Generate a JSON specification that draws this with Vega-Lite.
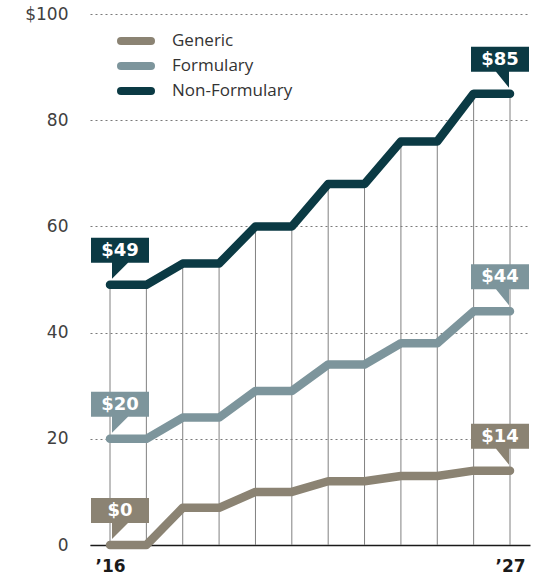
{
  "$schema": "https://vega.github.io/schema/vega-lite/v6.json",
  "width": 440,
  "height": 531,
  "autosize": {"type": "none"},
  "padding": {"left": 90, "top": 14, "right": 7, "bottom": 32},
  "config": {"view": {"stroke": null}, "font": "Open Sans"},
  "data": {
    "values": [
      {"year": 2016, "series": "Generic", "value": 0},
      {"year": 2017, "series": "Generic", "value": 0},
      {"year": 2018, "series": "Generic", "value": 7},
      {"year": 2019, "series": "Generic", "value": 7},
      {"year": 2020, "series": "Generic", "value": 10},
      {"year": 2021, "series": "Generic", "value": 10},
      {"year": 2022, "series": "Generic", "value": 12},
      {"year": 2023, "series": "Generic", "value": 12},
      {"year": 2024, "series": "Generic", "value": 13},
      {"year": 2025, "series": "Generic", "value": 13},
      {"year": 2026, "series": "Generic", "value": 14},
      {"year": 2027, "series": "Generic", "value": 14},
      {"year": 2016, "series": "Formulary", "value": 20},
      {"year": 2017, "series": "Formulary", "value": 20},
      {"year": 2018, "series": "Formulary", "value": 24},
      {"year": 2019, "series": "Formulary", "value": 24},
      {"year": 2020, "series": "Formulary", "value": 29},
      {"year": 2021, "series": "Formulary", "value": 29},
      {"year": 2022, "series": "Formulary", "value": 34},
      {"year": 2023, "series": "Formulary", "value": 34},
      {"year": 2024, "series": "Formulary", "value": 38},
      {"year": 2025, "series": "Formulary", "value": 38},
      {"year": 2026, "series": "Formulary", "value": 44},
      {"year": 2027, "series": "Formulary", "value": 44},
      {"year": 2016, "series": "Non-Formulary", "value": 49},
      {"year": 2017, "series": "Non-Formulary", "value": 49},
      {"year": 2018, "series": "Non-Formulary", "value": 53},
      {"year": 2019, "series": "Non-Formulary", "value": 53},
      {"year": 2020, "series": "Non-Formulary", "value": 60},
      {"year": 2021, "series": "Non-Formulary", "value": 60},
      {"year": 2022, "series": "Non-Formulary", "value": 68},
      {"year": 2023, "series": "Non-Formulary", "value": 68},
      {"year": 2024, "series": "Non-Formulary", "value": 76},
      {"year": 2025, "series": "Non-Formulary", "value": 76},
      {"year": 2026, "series": "Non-Formulary", "value": 85},
      {"year": 2027, "series": "Non-Formulary", "value": 85}
    ]
  },
  "encoding": {
    "x": {
      "field": "year",
      "type": "quantitative",
      "scale": {"domain": [2015.45, 2027.55], "nice": false, "zero": false},
      "axis": {
        "values": [2016, 2027],
        "labelExpr": "datum.value == 2016 ? '’16' : '’27'",
        "title": null,
        "grid": false,
        "ticks": false,
        "domainColor": "#1a1a1a",
        "domainWidth": 1.5,
        "labelFont": "DejaVu Sans",
        "labelFontSize": 17,
        "labelFontWeight": "bold",
        "labelColor": "#1a1a1a",
        "labelPadding": 13,
        "labelFlush": false
      }
    },
    "y": {
      "field": "value",
      "type": "quantitative",
      "scale": {"domain": [0, 100], "nice": false},
      "axis": {
        "values": [0, 20, 40, 60, 80, 100],
        "labelExpr": "datum.value == 100 ? '$100' : datum.label",
        "title": null,
        "domain": false,
        "ticks": false,
        "gridDash": [2, 3],
        "gridColor": "#7a7a7a",
        "gridWidth": 1,
        "labelFont": "DejaVu Sans",
        "labelFontSize": 17,
        "labelColor": "#404040",
        "labelPadding": 22
      }
    }
  },
  "layer": [
    {
      "transform": [{"filter": "datum.series == 'Non-Formulary'"}],
      "mark": {"type": "rule", "color": "#808080", "strokeWidth": 1},
      "encoding": {"y2": {"datum": 0}}
    },
    {
      "mark": {"type": "line", "strokeWidth": 8.5, "strokeCap": "round", "strokeJoin": "round"},
      "encoding": {
        "color": {
          "field": "series",
          "type": "nominal",
          "scale": {"domain": ["Generic", "Formulary", "Non-Formulary"], "range": ["#8b8373", "#7d959c", "#0b3a44"]},
          "legend": {
            "title": null,
            "orient": "none",
            "legendX": 37,
            "legendY": 18,
            "symbolType": "M-3,0L3,0",
            "symbolSize": 100,
            "symbolStrokeWidth": 8,
            "labelFontSize": 17,
            "labelColor": "#333333",
            "labelOffset": 27,
            "rowPadding": -8,
            "encode": {"symbols": {"update": {"strokeCap": {"value": "round"}}}}
          }
        }
      }
    },
    {
      "transform": [{"filter": "datum.year == 2016"}],
      "mark": {"type": "point", "filled": true, "opacity": 1, "size": 400, "strokeWidth": 0,
        "shape": "M-1.9,-4.7L3.9,-4.7L3.9,-2.2L1.8,-2.2L0.2,-0.6L0.2,-2.2L-1.9,-2.2Z"},
      "encoding": {
        "fill": {"field": "series", "type": "nominal", "legend": null,
          "scale": {"domain": ["Generic", "Formulary", "Non-Formulary"], "range": ["#8b8373", "#7d959c", "#0b3a44"]}}
      }
    },
    {
      "transform": [{"filter": "datum.year == 2027"}],
      "mark": {"type": "point", "filled": true, "opacity": 1, "size": 400, "strokeWidth": 0,
        "shape": "M-3.9,-4.7L1.9,-4.7L1.9,-2.2L-0.1,-2.2L-0.1,-0.6L-1.4,-2.2L-3.9,-2.2Z"},
      "encoding": {
        "fill": {"field": "series", "type": "nominal", "legend": null,
          "scale": {"domain": ["Generic", "Formulary", "Non-Formulary"], "range": ["#8b8373", "#7d959c", "#0b3a44"]}}
      }
    },
    {
      "transform": [{"filter": "datum.year == 2016"}],
      "mark": {"type": "text", "color": "white", "font": "DejaVu Sans", "fontSize": 18, "fontWeight": "bold", "dx": 10, "dy": -34, "align": "center", "baseline": "middle"},
      "encoding": {"text": {"field": "value", "type": "quantitative", "format": "$.0f"}}
    },
    {
      "transform": [{"filter": "datum.year == 2027"}],
      "mark": {"type": "text", "color": "white", "font": "DejaVu Sans", "fontSize": 18, "fontWeight": "bold", "dx": -10, "dy": -34, "align": "center", "baseline": "middle"},
      "encoding": {"text": {"field": "value", "type": "quantitative", "format": "$.0f"}}
    }
  ]
}
